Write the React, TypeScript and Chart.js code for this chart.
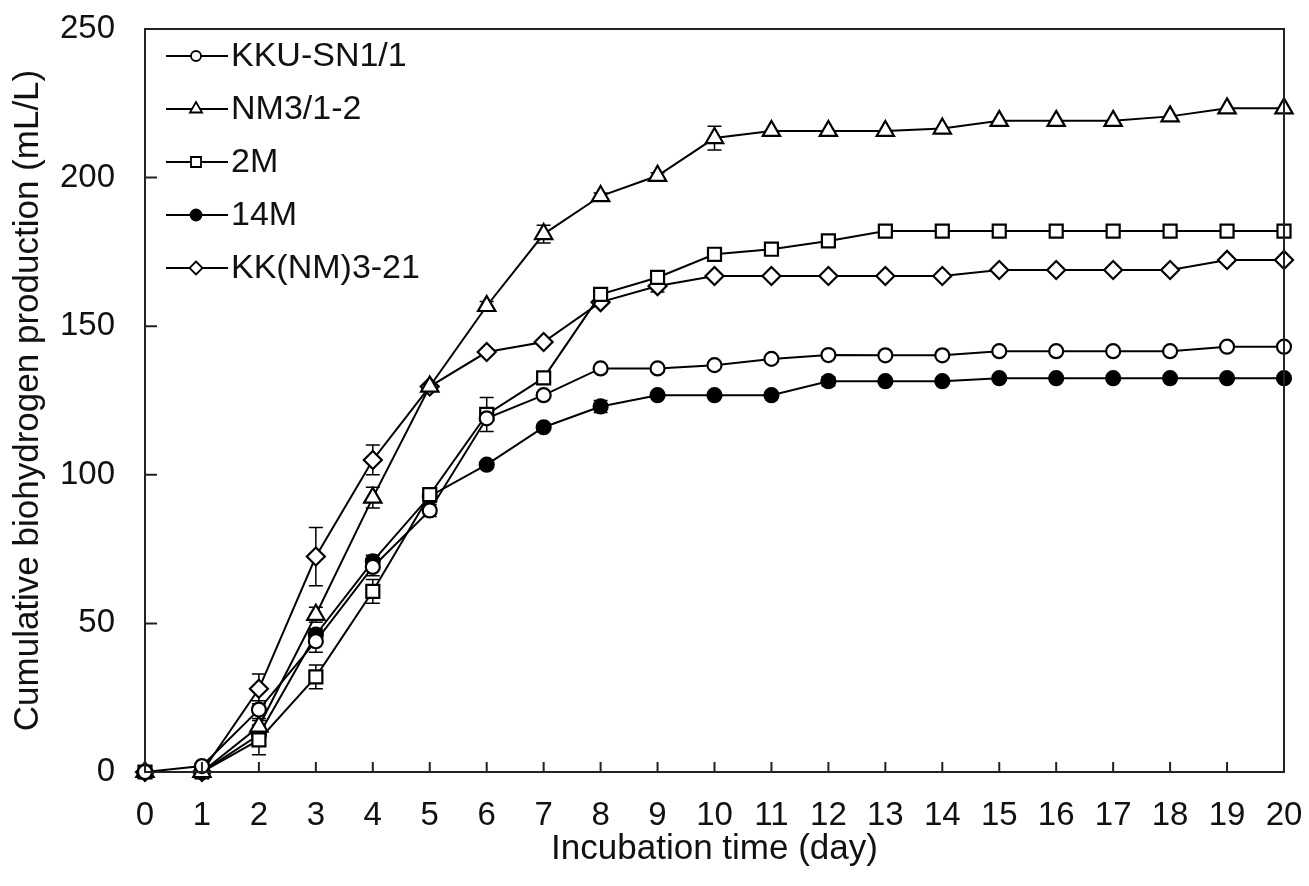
import React, { useEffect, useRef } from "react";
import { Chart, registerables } from "chart.js";

Chart.register(...registerables);

const days = [0, 1, 2, 3, 4, 5, 6, 7, 8, 9, 10, 11, 12, 13, 14, 15, 16, 17, 18, 19, 20];
const seriesLabels = ["KKU-SN1/1", "NM3/1-2", "2M", "14M", "KK(NM)3-21"];

const kkuSN = [0, 2, 21, 44, 69, 88, 119, 126.8, 135.8, 135.8, 136.9, 139, 140.3, 140.2, 140.2, 141.6, 141.6, 141.6, 141.6, 143.1, 143.1];
const nm312 = [0, 0, 15.3, 52.9, 92.3, 129.7, 156.8, 181, 193.8, 200.6, 213.3, 215.7, 215.7, 215.7, 216.5, 219.1, 219.1, 219.1, 220.6, 223.3, 223.3];
const m2 = [0, 0, 10.8, 32, 60.8, 93.3, 120.3, 132.6, 160.7, 166.4, 174.2, 175.9, 178.7, 182, 182, 182, 182, 182, 182, 182, 182];
const m14 = [0, 0, 12.5, 46.2, 70.9, 92.8, 103.4, 116, 123, 126.8, 126.8, 126.8, 131.5, 131.5, 131.5, 132.5, 132.5, 132.5, 132.5, 132.5, 132.5];
const kkNM = [0, 0, 28, 72.5, 105, 129.7, 141.3, 144.7, 158.1, 163.5, 166.9, 166.9, 166.9, 166.9, 166.9, 168.9, 168.9, 168.9, 168.9, 172.3, 172.3];

const kkuSNErr = [0, 0, 3, 3.7, 3, 2, 0, 0, 0, 0, 0, 0, 0, 0, 0, 0, 0, 0, 0, 0, 0];
const nm312Err = [0, 0, 2, 2.5, 3.5, 1, 1.5, 3, 1, 1, 4, 0, 0, 0, 0, 0, 0, 0, 0, 0, 0];
const m2Err = [0, 0, 5, 4, 4, 1, 5.7, 0, 1, 0, 0, 0, 0, 0, 0, 0, 0, 0, 0, 0, 0];
const m14Err = [0, 0, 2, 2, 2, 2, 0, 0, 2, 0, 0, 0, 1.5, 0, 0, 0, 0, 0, 0, 0, 0];
const kkNMErr = [0, 0, 5, 9.8, 5, 0, 0, 0, 0, 2, 0, 0, 0, 0, 0, 0, 0, 0, 0, 0, 0];

const yTicks = [0, 50, 100, 150, 200, 250];

const FONT = "'Liberation Sans', Arial, Helvetica, sans-serif";
const INK = "#111111";

const seriesValues = [kkuSN, nm312, m2, m14, kkNM];
const seriesErrors = [kkuSNErr, nm312Err, m2Err, m14Err, kkNMErr];
const pointStyles = ["circle", "triangle", "rect", "circle", "rectRot"];
const pointRadii = [7, 10, 9.2, 7, 9];
const fills = ["#ffffff", "#ffffff", "#ffffff", "#000000", "#ffffff"];

function drawLegendMarker(ctx: CanvasRenderingContext2D, style: string, x: number, y: number, fill: string) {
  ctx.beginPath();
  if (style === "circle") {
    ctx.arc(x, y, fill === "#000000" ? 5.5 : 5, 0, Math.PI * 2);
  } else if (style === "triangle") {
    const r = 7;
    ctx.moveTo(x, y - r);
    ctx.lineTo(x + r * 0.866, y + r * 0.5);
    ctx.lineTo(x - r * 0.866, y + r * 0.5);
    ctx.closePath();
  } else if (style === "rect") {
    ctx.rect(x - 5, y - 5, 10, 10);
  } else {
    const r = 6.5;
    ctx.moveTo(x, y - r);
    ctx.lineTo(x + r, y);
    ctx.lineTo(x, y + r);
    ctx.lineTo(x - r, y);
    ctx.closePath();
  }
  ctx.fillStyle = fill;
  ctx.fill();
  ctx.lineWidth = 1.8;
  ctx.strokeStyle = "#000";
  ctx.stroke();
}

const decorPlugin = {
  id: "decor",
  beforeDatasetsDraw(chart: any) {
    const ctx = chart.ctx as CanvasRenderingContext2D;
    const xs = chart.scales.x;
    const ys = chart.scales.y;
    ctx.save();
    ctx.strokeStyle = "#000";
    ctx.lineWidth = 1.5;
    seriesErrors.forEach((errs, si) => {
      errs.forEach((e, i) => {
        if (!e) return;
        const v = seriesValues[si][i];
        const px = xs.getPixelForValue(days[i]);
        const top = ys.getPixelForValue(v + e);
        const bot = ys.getPixelForValue(v - e);
        ctx.beginPath();
        ctx.moveTo(px, top);
        ctx.lineTo(px, bot);
        ctx.moveTo(px - 7, top);
        ctx.lineTo(px + 7, top);
        ctx.moveTo(px - 7, bot);
        ctx.lineTo(px + 7, bot);
        ctx.stroke();
      });
    });
    ctx.restore();
  },
  afterDraw(chart: any) {
    const ctx = chart.ctx as CanvasRenderingContext2D;
    const { left, right, top, bottom } = chart.chartArea;
    const xs = chart.scales.x;
    const ys = chart.scales.y;
    ctx.save();
    ctx.strokeStyle = "#222";
    ctx.lineWidth = 2;
    ctx.strokeRect(left, top, right - left, bottom - top);
    ctx.beginPath();
    days.forEach((d) => {
      const px = xs.getPixelForValue(d);
      ctx.moveTo(px, bottom);
      ctx.lineTo(px, bottom - 10);
    });
    yTicks.forEach((t) => {
      const py = ys.getPixelForValue(t);
      ctx.moveTo(left, py);
      ctx.lineTo(left + 12, py);
    });
    ctx.stroke();

    // legend
    const lx0 = 166;
    const lx1 = 228;
    const mx = 196;
    seriesLabels.forEach((label, i) => {
      const y = 56 + 53 * i;
      ctx.beginPath();
      ctx.strokeStyle = "#000";
      ctx.lineWidth = 2;
      ctx.moveTo(lx0, y);
      ctx.lineTo(lx1, y);
      ctx.stroke();
      drawLegendMarker(ctx, pointStyles[i], mx, y, fills[i]);
      ctx.fillStyle = INK;
      ctx.font = `34px ${FONT}`;
      ctx.textAlign = "left";
      ctx.textBaseline = "middle";
      ctx.fillText(label, 231, y + 1);
    });
    ctx.restore();
  },
};

export default function App() {
  const canvasRef = useRef<HTMLCanvasElement | null>(null);

  useEffect(() => {
    const canvas = canvasRef.current;
    if (!canvas) return;
    const datasets = seriesLabels.map((label, i) => ({
      label,
      data: days.map((d, j) => ({ x: d, y: seriesValues[i][j] })),
      borderColor: "#000",
      borderWidth: 2,
      pointStyle: pointStyles[i] as any,
      pointRadius: pointRadii[i],
      pointBorderWidth: 2.2,
      pointBorderColor: "#000",
      pointBackgroundColor: fills[i],
      backgroundColor: fills[i],
      fill: false,
      tension: 0,
      clip: false as any,
    }));
    const chart = new Chart(canvas, {
      type: "line",
      data: { datasets },
      plugins: [decorPlugin],
      options: {
        animation: false,
        responsive: false,
        maintainAspectRatio: false,
        layout: { padding: { left: 0, right: 25, top: 29, bottom: 0 } },
        plugins: { legend: { display: false }, tooltip: { enabled: false } },
        scales: {
          x: {
            type: "linear",
            min: 0,
            max: 20,
            grid: { display: false, drawTicks: false },
            border: { display: false },
            ticks: {
              stepSize: 1,
              padding: 24,
              color: INK,
              font: { family: FONT, size: 33 },
              maxRotation: 0,
              autoSkip: false,
            },
            title: {
              display: true,
              text: "Incubation time (day)",
              color: INK,
              font: { family: FONT, size: 35 },
              padding: { top: 0, bottom: 16 },
            },
            afterFit(scale: any) {
              scale.height = 114;
              scale.paddingLeft = 0;
              scale.paddingRight = 0;
              scale.paddingTop = 0;
              scale.paddingBottom = 0;
            },
          },
          y: {
            type: "linear",
            min: 0,
            max: 250,
            grid: { display: false, drawTicks: false },
            border: { display: false },
            ticks: {
              stepSize: 50,
              padding: 30,
              color: INK,
              font: { family: FONT, size: 33 },
            },
            title: {
              display: true,
              text: "Cumulative biohydrogen production (mL/L)",
              color: INK,
              font: { family: FONT, size: 35 },
              padding: { top: 7, bottom: 0 },
            },
            afterFit(scale: any) {
              scale.width = 145;
              scale.paddingLeft = 0;
              scale.paddingRight = 0;
              scale.paddingTop = 0;
              scale.paddingBottom = 0;
            },
          },
        },
      },
    });
    return () => chart.destroy();
  }, []);

  return (
    <div style={{ position: "absolute", left: 0, top: 0, width: 1309, height: 886, background: "#fff" }}>
      <canvas ref={canvasRef} width={1309} height={886} style={{ display: "block" }} />
    </div>
  );
}
